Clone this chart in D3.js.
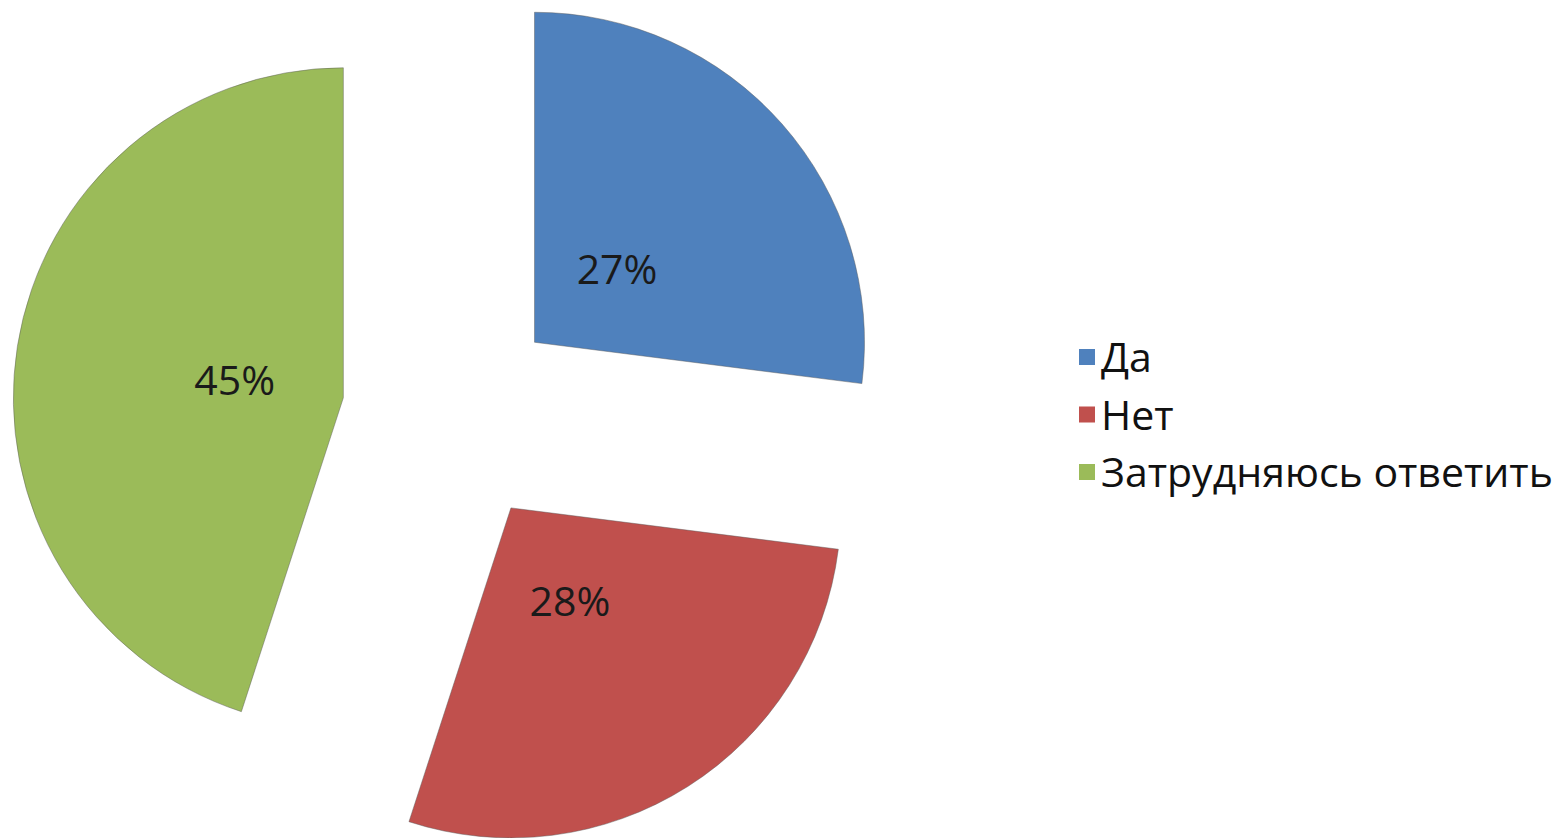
<!DOCTYPE html>
<html>
<head>
<meta charset="utf-8">
<script src="https://cdn.jsdelivr.net/npm/d3@7"></script>
<style>
  body { margin: 0; background: #fff; }
  svg { display: block; }
</style>
</head>
<body>
<div id="chart"></div>
<script>
// chart data
var categories = ["Да", "Нет", "Затрудняюсь ответить"];
var values = [27, 28, 45];
var colors = ["#4F81BD", "#C0504D", "#9BBB59"];

var svgWidth = 1560;
var svgHeight = 838;
var cx = 452, cy = 415;   // centre of the pie before exploding
var radius = 330;
var explode = 110;

var svg = d3.select("#chart")
    .append("svg")
    .attr("width", svgWidth)
    .attr("height", svgHeight);

var data = categories.map(function(c, i) { return { name: c, value: values[i], color: colors[i] }; });

var pie = d3.pie().sort(null).value(function(d) { return d.value; });
var arc = d3.arc().innerRadius(0).outerRadius(radius);
var total = d3.sum(values);

var slices = svg.selectAll("g.slice")
    .data(pie(data))
    .enter()
    .append("g")
    .attr("class", "slice")
    .attr("transform", function(d) {
        var mid = (d.startAngle + d.endAngle) / 2;
        var x = cx + explode * Math.sin(mid);
        var y = cy - explode * Math.cos(mid);
        return "translate(" + x + "," + y + ")";
    });

slices.append("path")
    .attr("d", arc)
    .attr("fill", function(d) { return d.data.color; })
    .attr("stroke", "rgba(90,90,90,0.45)")
    .attr("stroke-width", 1);

// labels sit a third of the way out along the mid angle
var labelArc = d3.arc().innerRadius(110).outerRadius(110);

slices.append("text")
    .attr("transform", function(d) { return "translate(" + labelArc.centroid(d) + ")"; })
    .attr("text-anchor", "middle")
    .attr("dy", "0.36em")
    .attr("font-family", "'Open Sans', sans-serif")
    .attr("font-size", 41)
    .attr("fill", "#1a1a1a")
    .text(function(d) { return Math.round(d.data.value / total * 100) + "%"; });

// legend
var legend = svg.append("g").attr("transform", "translate(1079,357)");

var rows = legend.selectAll("g")
    .data(data)
    .enter()
    .append("g")
    .attr("transform", function(d, i) { return "translate(0," + (i * 57.5) + ")"; });

rows.append("rect")
    .attr("x", 0)
    .attr("y", -8)
    .attr("width", 16)
    .attr("height", 16)
    .attr("fill", function(d) { return d.color; });

var legendText = rows.append("text")
    .attr("x", 22)
    .attr("y", 15)
    .attr("font-family", "'Open Sans', sans-serif")
    .attr("font-size", 37)
    .attr("fill", "#111")
    .text(function(d) { return d.name; });

// fit the longest entry to the width it has in the original
var longest = legendText.filter(function(d, i) { return i === 2; }).node();
var w = longest.getComputedTextLength();
var fs = 37 * 452 / w;
legendText.attr("font-size", fs);
</script>
</body>
</html>
